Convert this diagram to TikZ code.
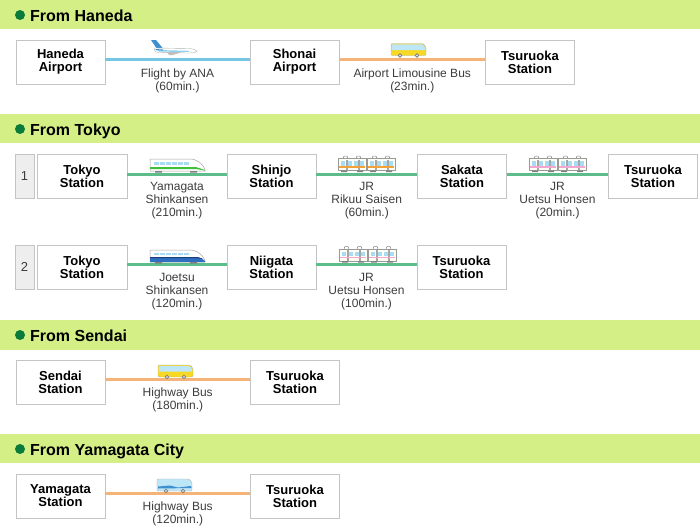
\documentclass[tikz,border=0pt]{standalone}
\usepackage{fontspec}
\setmainfont{Liberation Sans}
\definecolor{barg}{HTML}{D4EF86}
\definecolor{dotg}{HTML}{0A7B3A}
\definecolor{boxb}{HTML}{C4C4C4}
\definecolor{airl}{HTML}{76C5E3}
\definecolor{busl}{HTML}{F5B477}
\definecolor{trl}{HTML}{5CBD8B}
\definecolor{lab}{HTML}{3C3C3C}
\definecolor{numf}{HTML}{EEEEEE}
\definecolor{planeblue}{HTML}{3D8FD0}
\definecolor{planelight}{HTML}{8ED3EE}
\definecolor{winblue}{HTML}{A9DCF3}
\definecolor{busyellow}{HTML}{F7D823}
\definecolor{busblue}{HTML}{BDE6F7}
\definecolor{jblue}{HTML}{2F6FC0}
\definecolor{jnavy}{HTML}{1D3F7A}
\definecolor{shgreen}{HTML}{3FBF3A}
\definecolor{rikuu}{HTML}{F3A23A}
\definecolor{uetsu}{HTML}{F5A6CF}
\tikzset{
  stn/.style={draw=boxb, line width=0.8, fill=white, minimum width=89, minimum height=44,
    align=center, font=\fontsize{13}{13}\selectfont\bfseries, inner sep=0},
  numbox/.style={draw=boxb, line width=0.8, fill=numf, minimum width=19, minimum height=44,
    font=\fontsize{13}{13}\selectfont, text=lab, inner sep=0},
  lbl/.style={anchor=north, align=center, font=\fontsize{12}{13}\selectfont, text=lab, inner sep=0},
  hdr/.style={anchor=base west, font=\fontsize{16}{16}\selectfont\bfseries, inner sep=0},
  conn/.style={line width=3},
  plane/.pic={
    \fill[planeblue] (0,0) -- (5,0) -- (12,8.5) -- (6,9) -- cycle;
    \filldraw[fill=white, draw=gray!60, line width=0.4] (3,8) -- (38,8.5) .. controls (44,9) and (46,10.5) .. (46,11.5)
      .. controls (44,13) and (40,13) .. (36,13) -- (8,12.5) .. controls (4,12) .. (3,8) -- cycle;
    \fill[planelight] (6,10) -- (38,10.8) -- (38,12) -- (8,11.6) -- cycle;
    \fill[planeblue] (4,9) -- (12,9.5) -- (12,10.5) -- (5,10) -- cycle;
    \fill[gray!50] (16,11.8) -- (30,12.2) -- (22,15) -- (18,15) -- cycle;
  },
  busicon/.pic={
    \filldraw[fill=#1, draw=gray!60, line width=0.4, rounded corners=1.2] (0,0.5) -- (32,0.5) -- (35,4) -- (35,12.5) -- (0,12.5) -- cycle;
    \fill[busblue] (0.8,1.3) -- (31.5,1.3) -- (34,4.5) -- (34,7) -- (0.8,7) -- cycle;
    \filldraw[fill=white, draw=gray, line width=0.9] (9,12.5) circle (1.8) (26,12.5) circle (1.8);
  },
  tcar/.pic={
    \draw[gray, line width=0.5] (5,3) -- (6,0.5) -- (9,0.5) -- (10,3) (18,3) -- (19,0.5) -- (22,0.5) -- (23,3);
    \filldraw[fill=white!96!yellow, draw=gray!80, line width=0.5] (0,3) rectangle (28,15);
    \foreach \wx in {2.5,9,15.5,21} {\fill[winblue] (\wx,5.5) rectangle (\wx+4.5,10);}
    \draw[gray!70, line width=0.4] (8,4.5) rectangle (9,14) (20,4.5) rectangle (21,14);
    \fill[#1] (1,10.5) rectangle (27,12);
    \fill[gray] (3,15) rectangle (9,16.5) (19,15) rectangle (25,16.5);
  },
  yshink/.pic={
    \filldraw[fill=white, draw=gray!70, line width=0.5] (0,0) -- (42,0) .. controls (48,1) and (54,6) .. (55,11) -- (55,12) -- (0,12) -- cycle;
    \foreach \wx in {4,10,16,22,28,34} {\fill[winblue] (\wx,3) rectangle (\wx+4.5,5.5);}
    \fill[shgreen] (0,8) -- (46,8) .. controls (51,9) .. (55,11) -- (55,11.6) .. controls (50,10.5) .. (46,10) -- (0,10) -- cycle;
    \fill[gray] (5,12) rectangle (12,13.5) (40,12) rectangle (47,13.5);
  },
  jshink/.pic={
    \filldraw[fill=white, draw=gray!70, line width=0.5] (0,0) -- (42,0) .. controls (48,1) and (54,6) .. (55,11) -- (55,12) -- (0,12) -- cycle;
    \foreach \wx in {4,10,16,22,28,34} {\fill[winblue] (\wx,2.5) rectangle (\wx+4.5,5);}
    \fill[jblue] (0,7) -- (47,7) .. controls (51,8) .. (55,11) -- (55,12) -- (0,12) -- cycle;
    \fill[jnavy] (0,7) -- (47,7) .. controls (51,8) .. (53,9) -- (47,8.2) -- (0,8.2) -- cycle;
    \fill[gray] (5,12) rectangle (12,13.5) (40,12) rectangle (47,13.5);
  },
}
\begin{document}
\begin{tikzpicture}[x=1pt, y=-1pt]
\useasboundingbox (0,0) rectangle (700,530);
% header bars
\fill[barg] (0,0) rectangle (700,29);
\fill[barg] (0,114) rectangle (700,143);
\fill[barg] (0,320) rectangle (700,350);
\fill[barg] (0,434) rectangle (700,463);
\fill[dotg] (20,15) circle (5);
\fill[dotg] (20,129) circle (5);
\fill[dotg] (20,335) circle (5);
\fill[dotg] (20,449) circle (5);
\node[hdr] (h1) at (30,21) {From Haneda};
\node[hdr] (h2) at (30,135) {From Tokyo};
\node[hdr] (h3) at (30,341) {From Sendai};
\node[hdr] (h4) at (30,455) {From Yamagata City};

% Haneda row
\node[stn] (ha) at (60.5,62) {Haneda\\Airport};
\node[stn] (sh) at (294.5,62) {Shonai\\Airport};
\node[stn] (ts1) at (530,62) {Tsuruoka\\Station};
\draw[conn, airl] ([yshift=2.5]ha.east) -- node[lbl, yshift=-7.5] {Flight by ANA\\(60min.)} ([yshift=2.5]sh.west);
\draw[conn, busl] ([yshift=2.5]sh.east) -- node[lbl, yshift=-7.5] {Airport Limousine Bus\\(23min.)} ([yshift=2.5]ts1.west);
\pic at (151,40) {plane};
\pic at (391,43) {busicon=busyellow};

% Tokyo row 1
\node[numbox] (n1) at (24.5,176) {1};
\node[stn, minimum width=90] (tk1) at (82,176) {Tokyo\\Station};
\node[stn] (sj) at (271.5,176) {Shinjo\\Station};
\node[stn] (sk) at (462,176) {Sakata\\Station};
\node[stn] (ts2) at (653,176) {Tsuruoka\\Station};
\draw[conn, trl] ([yshift=2]tk1.east) -- node[lbl, yshift=-7] {Yamagata\\Shinkansen\\(210min.)} ([yshift=2]sj.west);
\draw[conn, trl] ([yshift=2]sj.east) -- node[lbl, yshift=-7] {JR\\Rikuu Saisen\\(60min.)} ([yshift=2]sk.west);
\draw[conn, trl] ([yshift=2]sk.east) -- node[lbl, yshift=-7] {JR\\Uetsu Honsen\\(20min.)} ([yshift=2]ts2.west);
\pic at (150,159) {yshink};
\pic at (338,155.5) {tcar=rikuu};
\pic at (367,155.5) {tcar=rikuu};
\pic at (529,155.5) {tcar=uetsu};
\pic at (558,155.5) {tcar=uetsu};

% Tokyo row 2
\node[numbox] (n2) at (24.5,267) {2};
\node[stn, minimum width=90] (tk2) at (82,267) {Tokyo\\Station};
\node[stn] (ni) at (271.5,267) {Niigata\\Station};
\node[stn] (ts3) at (461.5,267) {Tsuruoka\\Station};
\draw[conn, trl] ([yshift=3]tk2.east) -- node[lbl, yshift=-7.5] {Joetsu\\Shinkansen\\(120min.)} ([yshift=3]ni.west);
\draw[conn, trl] ([yshift=3]ni.east) -- node[lbl, yshift=-7.5] {JR\\Uetsu Honsen\\(100min.)} ([yshift=3]ts3.west);
\pic at (150,250) {jshink};
\pic at (339,246) {tcar=uetsu};
\pic at (368,246) {tcar=uetsu};

% Sendai
\node[stn] (sd) at (60.5,382) {Sendai\\Station};
\node[stn] (ts4) at (295,382) {Tsuruoka\\Station};
\draw[conn, busl] ([yshift=3]sd.east) -- node[lbl, yshift=-7.5] {Highway Bus\\(180min.)} ([yshift=3]ts4.west);
\pic at (158,364.5) {busicon=busyellow};

% Yamagata
\node[stn] (ym) at (60.5,496) {Yamagata\\Station};
\node[stn] (ts5) at (295,496) {Tsuruoka\\Station};
\draw[conn, busl] ([yshift=3]ym.east) -- node[lbl, yshift=-7.5] {Highway Bus\\(120min.)} ([yshift=3]ts5.west);
\pic at (157,478.5) {busicon=busblue};
\fill[planeblue] (158,486.5) -- (170,485.5) -- (178,487.5) -- (191,486) -- (191.5,488) -- (158,488.5) -- cycle;
\end{tikzpicture}
\end{document}
